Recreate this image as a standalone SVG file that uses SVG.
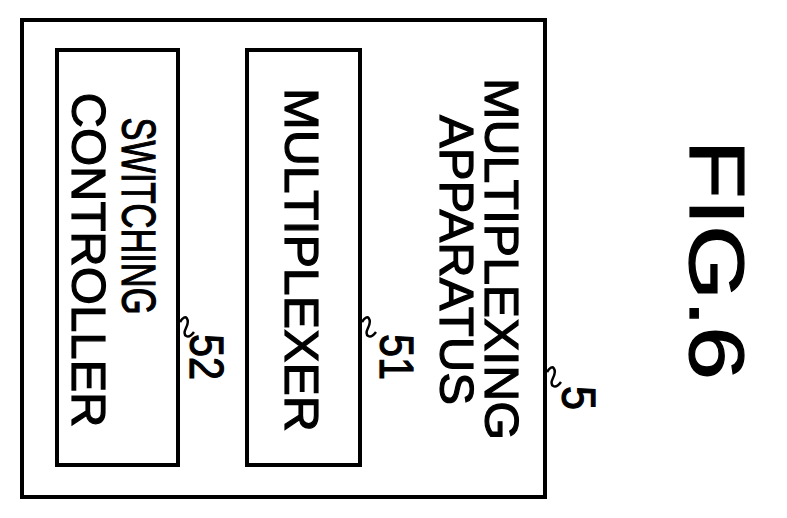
<svg xmlns="http://www.w3.org/2000/svg" width="787" height="518" viewBox="0 0 787 518">
<style>
rect{fill:#fff;stroke:#000;stroke-width:4}
text{font-family:"Liberation Sans",Arial,sans-serif;font-size:48px;fill:#000;stroke:#000;stroke-width:1.2;text-anchor:middle}
path{fill:none;stroke:#000;stroke-width:2.5}
</style>
<rect width="787" height="518" style="fill:#fff;stroke:none"/>
<g id="apparatus"><rect x="22" y="20" width="523" height="477"/>
<text transform="translate(485,259) rotate(90)" textLength="362" lengthAdjust="spacingAndGlyphs">MULTIPLEXING</text>
<text transform="translate(440,260) rotate(90)" textLength="290" lengthAdjust="spacingAndGlyphs">APPARATUS</text></g>
<g id="controller"><rect x="57" y="50" width="121" height="415"/>
<text transform="translate(122,216) rotate(90)" textLength="197" lengthAdjust="spacingAndGlyphs">SWITCHING</text>
<text transform="translate(72,260) rotate(90)" textLength="335" lengthAdjust="spacingAndGlyphs">CONTROLLER</text></g>
<g id="multiplexer"><rect x="247" y="50" width="113" height="415"/>
<text transform="translate(285,260) rotate(90)" textLength="344" lengthAdjust="spacingAndGlyphs">MULTIPLEXER</text></g>
<g id="connectors">
<path d="M180,322 C186,312 190,320 186,328 C182,336 188,340 194,332"/>
<path d="M362,322 C368,312 372,320 368,328 C364,336 370,340 376,332"/>
<path d="M547,372 C553,362 557,370 553,378 C549,386 555,390 561,382"/>
</g>
<text transform="translate(190,357) rotate(90)" textLength="46" lengthAdjust="spacingAndGlyphs">52</text>
<text transform="translate(380,357) rotate(90)" textLength="46" lengthAdjust="spacingAndGlyphs">51</text>
<text transform="translate(562,398) rotate(90)" textLength="24" lengthAdjust="spacingAndGlyphs">5</text>
<text transform="translate(690,260) rotate(90)" style="font-size:77px" textLength="240" lengthAdjust="spacingAndGlyphs">FIG.6</text>
</svg>
